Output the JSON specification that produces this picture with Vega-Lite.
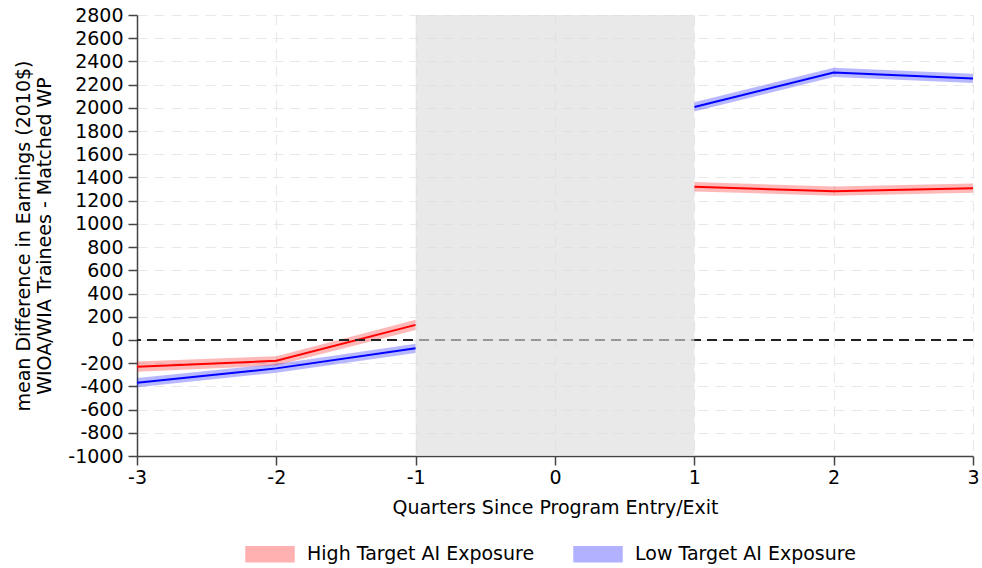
{
  "$schema": "https://vega.github.io/schema/vega-lite/v6.json",
  "width": 836,
  "height": 441,
  "autosize": "none",
  "padding": {"left": 137, "top": 15, "right": 9, "bottom": 112},
  "background": "white",
  "config": {
    "view": {"stroke": null},
    "font": "DejaVu Sans",
    "axis": {
      "labelFont": "DejaVu Sans",
      "titleFont": "DejaVu Sans",
      "labelFontSize": 19,
      "labelColor": "#000000",
      "titleFontSize": 19,
      "titleFontWeight": "normal",
      "titleColor": "#000000",
      "domainColor": "#444444",
      "domainWidth": 1.5,
      "tickColor": "#444444",
      "tickWidth": 1.5,
      "tickSize": 9,
      "gridColor": "#E8E8E8",
      "gridDash": [10, 7],
      "gridWidth": 1.2,
      "labelOverlap": false,
      "labelBound": false,
      "labelFlush": false
    }
  },
  "datasets": {
    "est": [
      {"group": "High Target AI Exposure", "seg": "pre", "q": -3, "est": -230, "lo": -275, "hi": -185},
      {"group": "High Target AI Exposure", "seg": "pre", "q": -2, "est": -180, "lo": -220, "hi": -140},
      {"group": "High Target AI Exposure", "seg": "pre", "q": -1, "est": 130, "lo": 85, "hi": 175},
      {"group": "High Target AI Exposure", "seg": "post", "q": 1, "est": 1320, "lo": 1280, "hi": 1360},
      {"group": "High Target AI Exposure", "seg": "post", "q": 2, "est": 1282, "lo": 1242, "hi": 1322},
      {"group": "High Target AI Exposure", "seg": "post", "q": 3, "est": 1308, "lo": 1268, "hi": 1348},
      {"group": "Low Target AI Exposure", "seg": "pre", "q": -3, "est": -368, "lo": -408, "hi": -328},
      {"group": "Low Target AI Exposure", "seg": "pre", "q": -2, "est": -245, "lo": -282, "hi": -208},
      {"group": "Low Target AI Exposure", "seg": "pre", "q": -1, "est": -72, "lo": -112, "hi": -32},
      {"group": "Low Target AI Exposure", "seg": "post", "q": 1, "est": 2008, "lo": 1968, "hi": 2048},
      {"group": "Low Target AI Exposure", "seg": "post", "q": 2, "est": 2305, "lo": 2265, "hi": 2345},
      {"group": "Low Target AI Exposure", "seg": "post", "q": 3, "est": 2253, "lo": 2213, "hi": 2293}
    ],
    "one": [{"k": 0}]
  },
  "layer": [
    {
      "data": {"name": "est"},
      "mark": {"type": "area", "fillOpacity": 0.28, "strokeOpacity": 0.55, "strokeWidth": 1.2},
      "encoding": {
        "x": {
          "field": "q", "type": "quantitative",
          "scale": {"domain": [-3, 3], "nice": false, "zero": false},
          "axis": {
            "values": [-3, -2, -1, 0, 1, 2, 3],
            "tickCount": 10,
            "labelExpr": "'' + datum.value",
            "title": "Quarters Since Program Entry/Exit",
            "labelFontSize": 19,
            "titleFontSize": 19,
            "labelPadding": 3,
            "titlePadding": 11,
            "labelFlush": false,
            "labelBound": false,
            "labelOverlap": false
          }
        },
        "y": {
          "field": "lo", "type": "quantitative",
          "scale": {"domain": [-1000, 2800], "nice": false, "zero": false},
          "axis": {
            "values": [-1000, -800, -600, -400, -200, 0, 200, 400, 600, 800, 1000, 1200, 1400, 1600, 1800, 2000, 2200, 2400, 2600, 2800],
            "tickCount": 30,
            "labelExpr": "'' + datum.value",
            "title": ["mean Difference in Earnings (2010$)", "WIOA/WIA Trainees - Matched WP"],
            "labelFontSize": 19,
            "titleFontSize": 19,
            "labelPadding": 5,
            "titlePadding": 13,
            "labelOverlap": false,
            "labelBound": false,
            "labelFlush": false
          }
        },
        "y2": {"field": "hi"},
        "color": {
          "field": "group", "type": "nominal",
          "scale": {"domain": ["High Target AI Exposure", "Low Target AI Exposure"], "range": ["#FF0000", "#0000FF"]},
          "legend": {
            "title": null,
            "orient": "none",
            "legendX": 108,
            "legendY": 514,
            "direction": "horizontal",
            "symbolType": "M-1,-0.31H1V0.31H-1Z",
            "symbolSize": 2304,
            "symbolOpacity": 0.3,
            "symbolStrokeWidth": 1.5,
            "labelFont": "DejaVu Sans",
            "labelFontSize": 19,
            "labelLimit": 0,
            "labelColor": "#000000",
            "labelOffset": 12,
            "columnPadding": 36
          }
        },
        "detail": {"field": "seg"}
      }
    },
    {
      "data": {"name": "est"},
      "mark": {"type": "line", "strokeWidth": 2},
      "encoding": {
        "x": {"field": "q", "type": "quantitative"},
        "y": {"field": "est", "type": "quantitative"},
        "stroke": {
          "field": "group", "type": "nominal",
          "scale": {"domain": ["High Target AI Exposure", "Low Target AI Exposure"], "range": ["#FF0000", "#0000FF"]},
          "legend": null
        },
        "detail": {"field": "seg"}
      }
    },
    {
      "data": {"name": "one"},
      "mark": {"type": "rule", "color": "#222222", "strokeWidth": 2, "strokeDash": [10, 6]},
      "encoding": {"y": {"datum": 0}}
    },
    {
      "data": {"name": "one"},
      "mark": {"type": "rect", "color": "#DCDCDC", "opacity": 0.63},
      "encoding": {"x": {"datum": -1}, "x2": {"datum": 1}}
    }
  ]
}
